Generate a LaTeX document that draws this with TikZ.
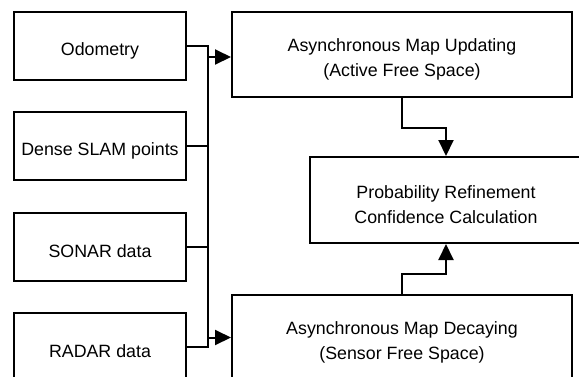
\documentclass[tikz,border=0pt]{standalone}
\usepackage{fontspec}
\setmainfont{Liberation Sans}
\usetikzlibrary{arrows.meta,calc}
\begin{document}
\begin{tikzpicture}[x=1pt,y=-1pt,
  txt/.style={font=\fontsize{17.8}{25}\selectfont,align=center,inner sep=0pt,yshift=-4.5pt},
  box/.style={draw,line width=2pt,inner sep=0pt},
  srcbox/.style={box,minimum width=172pt,minimum height=68pt},
  stagebox/.style={box,minimum width=340pt,minimum height=85pt},
  wire/.style={line width=2pt},
  arr/.style={wire,-{Triangle[length=16pt,width=15pt]}}]
\useasboundingbox (0,0) rectangle (579,376);

% sensor inputs
\node[srcbox,label={[txt]center:Odometry}] (odo) at (100,46) {};
\node[srcbox,label={[txt]center:Dense SLAM points}] (dense) at (100,146) {};
\node[srcbox,label={[txt]center:SONAR data}] (sonar) at (100,247) {};
\node[srcbox,label={[txt]center:RADAR data}] (radar) at (100,347) {};

% processing stages
\node[stagebox,label={[txt]center:Asynchronous Map Updating\\(Active Free Space)}]
  (upd) at (402,54.5) {};
\node[box,minimum width=272pt,minimum height=86pt,
  label={[txt]center:Probability Refinement\\Confidence Calculation}]
  (prob) at (446,200) {};
\node[stagebox,label={[txt]center:Asynchronous Map Decaying\\(Sensor Free Space)}]
  (dec) at (402,337.5) {};

% collecting bus
\coordinate (bustop) at (208,46);
\coordinate (busbot) at (208,347);
\coordinate (busup) at (208,57);
\draw[wire] (odo.east) -- (bustop) -- (busbot) -- (radar.east);
\draw[wire] (dense.east) -- (dense.east -| bustop);
\draw[wire] (sonar.east) -- (sonar.east -| bustop);
\draw[arr] (busup) -- (busup -| upd.west);
\draw[arr] (dec.west -| bustop) -- (dec.west);

% stage outputs into refinement
\draw[arr] (upd.south) -- ++(0,30) -| (prob.north);
\draw[arr] (dec.north) -- ++(0,-20) -| (prob.south);
\end{tikzpicture}
\end{document}
